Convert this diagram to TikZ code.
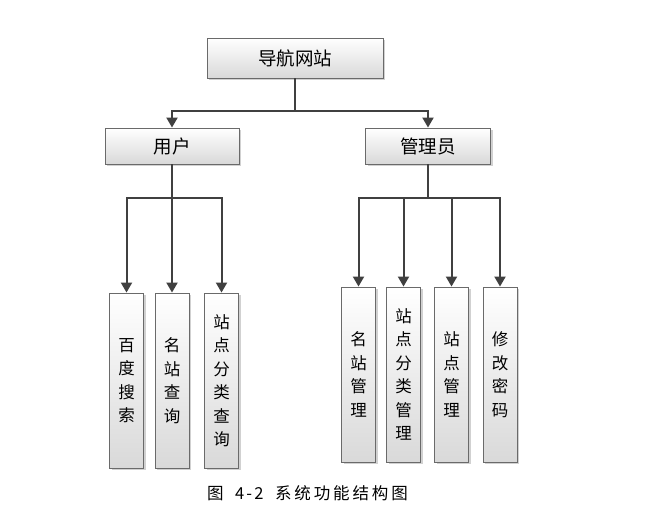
\documentclass[tikz,border=0pt]{standalone}
\usepackage{fontspec}
\setmainfont{Noto Sans CJK SC}
\usetikzlibrary{arrows.meta,shadows}
\definecolor{linec}{HTML}{404040}
\definecolor{boxb}{HTML}{6A6A6A}
\definecolor{boxbot}{HTML}{D9D9D9}
\newcommand\capcw[1]{\makebox[19.4pt]{#1}}
\newcommand\caphw[1]{\makebox[9.7pt]{#1}}
\tikzset{
  fbox/.style={draw=boxb, line width=0.9pt, top color=white, bottom color=boxbot,
    inner sep=0pt, align=center,
    drop shadow={shadow xshift=2pt, shadow yshift=-2pt, fill=black, opacity=0.18}},
  hbox/.style={fbox, font=\fontsize{18.5}{22}\selectfont},
  vbox/.style={fbox, minimum width=34pt, minimum height=175pt,
    font=\fontsize{16.5}{23.5}\selectfont},
  conn/.style={draw=linec, line width=2pt},
  arr/.style={conn, -{Triangle[width=11pt,length=10pt]}},
}
\begin{document}
\begin{tikzpicture}[x=1pt,y=-1pt]
\useasboundingbox[fill=white] (0,0) rectangle (652,510);
% level 0
\node[hbox, minimum width=176pt, minimum height=40pt] (top) at (295,58) {导航网站};
% level 1
\node[hbox, minimum width=134pt, minimum height=36pt] (user) at (172,146) {用户};
\node[hbox, minimum width=125pt, minimum height=36pt] (admin) at (428,146) {管理员};
% leaves user
\node[vbox] (l1) at (126.5,380.5) {百\\度\\搜\\索};
\node[vbox] (l2) at (172,380.5) {名\\站\\查\\询};
\node[vbox] (l3) at (221.5,380.5) {站\\点\\分\\类\\查\\询};
% leaves admin
\node[vbox] (r1) at (358.5,374.5) {名\\站\\管\\理};
\node[vbox] (r2) at (403.5,374.5) {站\\点\\分\\类\\管\\理};
\node[vbox] (r3) at (451.5,374.5) {站\\点\\管\\理};
\node[vbox] (r4) at (500,374.5) {修\\改\\密\\码};
% junctions
\coordinate (j0) at (295,111);
\coordinate (j1) at (172,198);
\coordinate (j2) at (428,198);
% connectors
\draw[conn] (top.south) -- (j0);
\draw[arr] (j0) -| (user.north);
\draw[arr] (j0) -| (admin.north);
\draw[conn] (user.south) -- (j1);
\draw[arr] (j1) -| (l1.north);
\draw[arr] (j1) -- (l2.north);
\draw[arr] (j1) -| (l3.north);
\draw[conn] (admin.south) -- (j2);
\draw[arr] (j2) -| (r1.north);
\draw[arr] (j2) -| (r2.north);
\draw[arr] (j2) -| (r3.north);
\draw[arr] (j2) -| (r4.north);
% caption
\node[font=\fontsize{16.5}{18}\selectfont, inner sep=0pt] (cap) at (307.5,493)
  {\capcw{图}\caphw{}\caphw{4}\caphw{-}\caphw{2}\caphw{}\capcw{系}\capcw{统}\capcw{功}\capcw{能}\capcw{结}\capcw{构}\capcw{图}};
\end{tikzpicture}
\end{document}
